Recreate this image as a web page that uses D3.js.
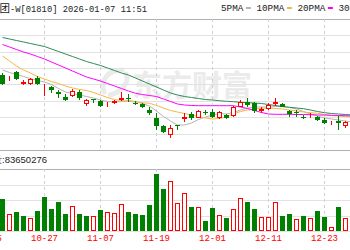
<!DOCTYPE html>
<html>
<head>
<meta charset="utf-8">
<script src="https://cdn.jsdelivr.net/npm/d3@7"></script>
<style>
body { margin: 0; background: #fff; }
svg { display: block; }
</style>
</head>
<body>
<div id="chart"></div>
<script>
var width = 350;
var height = 250;

// trading days that sit left of the visible window (only used for the axis)
var earlierDates = ['10-15', '10-16'];
var dates = ['10-17', '10-20', '10-21', '10-22', '10-23', '10-24', '10-27', '10-28', '10-30', '10-31',
  '11-03', '11-04', '11-05', '11-06', '11-07', '11-10', '11-11', '11-12', '11-13', '11-14',
  '11-17', '11-18', '11-19', '11-20', '11-21', '11-24', '11-25', '11-26', '11-27', '11-28',
  '12-01', '12-02', '12-03', '12-04', '12-05', '12-08', '12-09', '12-10', '12-11', '12-12',
  '12-15', '12-16', '12-17', '12-18', '12-19', '12-22', '12-23', '12-24', '12-29', '12-30',
  '12-31'];
var tickDates = ['10-15', '10-27', '11-07', '11-19', '12-01', '12-11', '12-23'];

var openPrices = [43.60, 43.20, 43.93, 42.67, 42.67, 43.33, 42.60, 42.37, 41.87, 41.43,
  41.50, 41.93, 40.70, 41.22, 41.03, 40.55, 40.85, 41.10, 41.33, 40.83,
  40.70, 40.10, 39.27, 38.50, 37.60, 38.60, 39.25, 39.70, 39.33, 39.87,
  39.93, 39.35, 39.60, 39.50, 40.43, 40.87, 40.77, 40.03, 40.23, 40.72,
  40.67, 40.03, 39.95, 39.43, 39.43, 39.43, 39.13, 38.90, 39.05, 38.45,
  39.20];
var closePrices = [42.67, 43.30, 43.17, 42.87, 43.17, 42.75, 42.70, 42.10, 41.73, 41.10,
  42.03, 41.27, 41.08, 41.13, 40.50, 40.65, 40.95, 41.33, 41.17, 40.73,
  40.37, 39.77, 38.50, 37.93, 38.27, 38.45, 39.45, 39.33, 40.00, 39.77,
  39.43, 39.90, 39.33, 40.37, 40.93, 40.60, 40.00, 40.17, 40.60, 40.87,
  40.43, 39.73, 39.80, 39.33, 39.53, 39.13, 38.83, 39.00, 38.85, 38.90,
  38.85];
var highPrices = [43.80, 43.50, 44.03, 43.10, 43.33, 43.50, 42.75, 42.50, 42.10, 41.70,
  42.20, 42.10, 41.17, 41.25, 41.10, 40.93, 41.15, 41.93, 41.67, 41.05,
  40.83, 40.43, 39.77, 38.60, 38.60, 38.65, 39.85, 39.93, 40.10, 40.10,
  40.17, 40.05, 39.67, 40.50, 41.10, 41.27, 40.93, 40.43, 40.77, 41.27,
  40.77, 40.10, 40.13, 39.60, 39.80, 39.53, 39.27, 39.00, 39.55, 39.00,
  39.40];
var lowPrices = [42.60, 43.00, 43.10, 42.57, 42.57, 42.57, 41.55, 41.77, 41.27, 41.05,
  41.43, 41.10, 40.53, 40.85, 40.37, 40.37, 40.70, 41.05, 40.93, 40.60,
  40.27, 39.60, 38.10, 37.77, 37.27, 38.10, 38.93, 39.10, 39.27, 39.60,
  39.27, 39.20, 39.20, 39.40, 40.37, 40.40, 39.85, 39.77, 40.10, 40.50,
  40.37, 39.43, 39.43, 39.20, 39.27, 39.00, 38.67, 38.60, 38.10, 38.35,
  38.70];
// volume, millions of shares
var volumes = [129, 67, 78, 60, 54, 82, 136, 89, 118, 67,
  100, 67, 60, 60, 86, 78, 74, 108, 78, 67,
  65, 105, 230, 169, 202, 113, 152, 96, 98, 40,
  92, 65, 51, 88, 132, 116, 88, 55, 58, 116,
  62, 69, 48, 62, 51, 81, 58, 17, 96, 51,
  27];

var ma5 = [44.10, 43.85, 43.65, 43.45, 43.25, 43.05, 42.90, 42.65, 42.25, 41.90,
  41.75, 41.60, 41.45, 41.30, 41.10, 40.95, 40.90, 40.95, 41.05, 40.95,
  40.75, 40.50, 40.00, 39.45, 39.00, 38.60, 38.60, 38.80, 39.15, 39.40,
  39.60, 39.75, 39.70, 39.85, 40.10, 40.30, 40.40, 40.40, 40.40, 40.45,
  40.45, 40.35, 40.20, 39.95, 39.70, 39.50, 39.30, 39.20, 39.10, 39.00,
  38.90];
var ma10 = [45.50, 45.00, 44.50, 44.10, 43.80, 43.45, 43.20, 42.95, 42.75, 42.50,
  42.30, 42.15, 42.05, 41.85, 41.60, 41.35, 41.15, 41.05, 40.97, 40.90,
  40.83, 40.77, 40.55, 40.30, 40.05, 39.90, 39.75, 39.60, 39.45, 39.30,
  39.20, 39.25, 39.40, 39.70, 39.95, 40.10, 40.20, 40.27, 40.30, 40.25,
  40.20, 40.10, 40.00, 39.90, 39.83, 39.77, 39.65, 39.55, 39.50, 39.45,
  39.40];
var ma20 = [46.65, 46.40, 46.15, 45.90, 45.70, 45.45, 45.20, 44.90, 44.60, 44.30,
  44.00, 43.70, 43.40, 43.20, 43.00, 42.75, 42.50, 42.25, 42.00, 41.77,
  41.65, 41.55, 41.45, 41.20, 40.95, 40.70, 40.60, 40.55, 40.53, 40.53,
  40.53, 40.53, 40.53, 40.53, 40.40, 40.25, 40.05, 39.85, 39.70, 39.67,
  39.67, 39.67, 39.65, 39.65, 39.63, 39.60, 39.60, 39.57, 39.55, 39.53,
  39.50];
var ma30 = [47.35, 47.20, 47.05, 46.90, 46.75, 46.60, 46.45, 46.20, 45.95, 45.70,
  45.45, 45.20, 44.95, 44.75, 44.55, 44.30, 44.05, 43.80, 43.60, 43.30,
  43.00, 42.70, 42.40, 42.10, 41.80, 41.60, 41.45, 41.35, 41.25, 41.15,
  41.10, 41.03, 40.97, 40.93, 40.87, 40.83, 40.80, 40.75, 40.65, 40.55,
  40.45, 40.37, 40.30, 40.23, 40.10, 39.95, 39.83, 39.75, 39.70, 39.65,
  39.60];

var maNames = ['5PMA', '10PMA', '20PMA', '30PMA'];
var maColors = ['#b4b4b4', '#f7b547', '#ff00ff', '#2e8b57'];
var maSeries = [ma5, ma10, ma20, ma30];

var upColor = '#ff0000';
var downColor = '#008000';

var priceTop = 19, priceBottom = 150;
var volTop = 169, volBottom = 231;

var svg = d3.select('#chart')
  .append('svg')
  .attr('width', width)
  .attr('height', height);

var x = d3.scaleBand()
  .domain(earlierDates.concat(dates))
  .range([-15, -15 + 7 * (earlierDates.length + dates.length)])
  .paddingInner(2 / 7)
  .paddingOuter(1 / 7);

var y = d3.scaleLinear().domain([36.1, 49.2]).range([priceBottom, priceTop]);
var yVol = d3.scaleLinear().domain([0, 250]).range([volBottom, volTop]);

function cx(date) { return x(date) + x.bandwidth() / 2; }
function crisp(v) { return Math.round(v) + 0.5; }

var candles = dates.map(function(d, i) {
  return {
    date: d,
    open: openPrices[i],
    close: closePrices[i],
    high: highPrices[i],
    low: lowPrices[i],
    volume: volumes[i],
    up: closePrices[i] >= openPrices[i],
    volUp: i > 0 ? closePrices[i] > closePrices[i - 1] : closePrices[i] >= openPrices[i]
  };
});

// watermark
var mark = svg.append('g').attr('fill', 'none').attr('stroke', '#ebebeb').attr('stroke-width', 5)
  .attr('stroke-linecap', 'round');
mark.append('path').attr('d', 'M104,92 C100,80 108,70 122,70');
mark.append('path').attr('d', 'M110,95 C122,92 130,82 126,74');
svg.append('text')
  .attr('x', 132)
  .attr('y', 96)
  .attr('font-family', '"Noto Sans CJK SC"')
  .attr('font-weight', 700)
  .attr('font-size', 30)
  .attr('fill', '#ebebeb')
  .text('东方财富');

// horizontal grid
var priceGrid = d3.range(9).map(function(k) { return 36.1 + k * (49.2 - 36.1) / 8; });
svg.append('g').selectAll('line')
  .data(priceGrid)
  .enter().append('line')
  .attr('x1', 0).attr('x2', width)
  .attr('y1', function(d) { return crisp(y(d)); })
  .attr('y2', function(d) { return crisp(y(d)); })
  .attr('stroke', function(d, i) { return (i === 0 || i === 8) ? '#b0b0b0' : '#e2e2e2'; });

var volGrid = d3.range(5).map(function(k) { return k * 250 / 4; });
svg.append('g').selectAll('line')
  .data(volGrid)
  .enter().append('line')
  .attr('x1', 0).attr('x2', width)
  .attr('y1', function(d) { return crisp(yVol(d)); })
  .attr('y2', function(d) { return crisp(yVol(d)); })
  .attr('stroke', function(d, i) { return i === 4 ? '#b0b0b0' : '#e2e2e2'; });

// vertical dashed grid
var vgrid = svg.append('g').selectAll('g')
  .data(tickDates)
  .enter().append('g');
vgrid.append('line')
  .attr('x1', function(d) { return cx(d); }).attr('x2', function(d) { return cx(d); })
  .attr('y1', priceTop).attr('y2', priceBottom)
  .attr('stroke', '#d0d0d0').attr('stroke-dasharray', '3,3');
vgrid.append('line')
  .attr('x1', function(d) { return cx(d); }).attr('x2', function(d) { return cx(d); })
  .attr('y1', volTop).attr('y2', volBottom)
  .attr('stroke', '#d0d0d0').attr('stroke-dasharray', '3,3');

// date labels
svg.append('g').selectAll('text')
  .data(tickDates)
  .enter().append('text')
  .attr('x', function(d) { return cx(d); })
  .attr('y', 241)
  .attr('text-anchor', 'middle')
  .attr('font-family', '"Liberation Mono", monospace')
  .attr('font-size', 9)
  .attr('fill', upColor)
  .text(function(d) { return d; });

// moving averages
var line = d3.line()
  .x(function(d, i) { return cx(dates[i]); })
  .y(function(d) { return y(d); });
svg.append('g').selectAll('path')
  .data(maSeries)
  .enter().append('path')
  .attr('d', line)
  .attr('fill', 'none')
  .attr('stroke', function(d, i) { return maColors[i]; })
  .attr('stroke-width', 1);

// candles
var candle = svg.append('g').selectAll('g')
  .data(candles)
  .enter().append('g');

candle.append('line')
  .attr('x1', function(d) { return cx(d.date); })
  .attr('x2', function(d) { return cx(d.date); })
  .attr('y1', function(d) { return Math.round(y(d.high)); })
  .attr('y2', function(d) { return Math.round(y(d.low)); })
  .attr('stroke', function(d) { return d.up ? upColor : downColor; });

candle.append('rect')
  .attr('x', function(d) { return d.up ? x(d.date) + 0.5 : x(d.date); })
  .attr('y', function(d) {
    var top = Math.round(y(Math.max(d.open, d.close)));
    return d.up ? top + 0.5 : top;
  })
  .attr('width', function(d) { return d.up ? x.bandwidth() - 1 : x.bandwidth(); })
  .attr('height', function(d) {
    var h = Math.round(y(Math.min(d.open, d.close))) - Math.round(y(Math.max(d.open, d.close)));
    return d.up ? Math.max(h - 1, 0) : Math.max(h, 1);
  })
  .attr('fill', function(d) { return d.up ? '#fff' : downColor; })
  .attr('stroke', function(d) { return d.up ? upColor : 'none'; });

// volume bars
svg.append('g').selectAll('rect')
  .data(candles)
  .enter().append('rect')
  .attr('x', function(d) { return d.volUp ? x(d.date) + 0.5 : x(d.date); })
  .attr('y', function(d) { return d.volUp ? Math.round(yVol(d.volume)) + 0.5 : Math.round(yVol(d.volume)); })
  .attr('width', function(d) { return d.volUp ? x.bandwidth() - 1 : x.bandwidth(); })
  .attr('height', function(d) {
    var h = Math.round(yVol(0)) - Math.round(yVol(d.volume));
    return d.volUp ? h - 1 : h;
  })
  .attr('fill', function(d) { return d.volUp ? '#fff' : downColor; })
  .attr('stroke', function(d) { return d.volUp ? upColor : 'none'; });

// title
svg.append('text')
  .attr('x', 10).attr('y', 12)
  .attr('text-anchor', 'end')
  .attr('font-family', '"Noto Sans CJK SC"')
  .attr('font-size', 10.5)
  .attr('fill', '#222')
  .text('小米集团');
svg.append('text')
  .attr('x', 10).attr('y', 12)
  .attr('font-family', '"Liberation Mono", monospace')
  .attr('font-size', 9.5)
  .attr('textLength', 137)
  .attr('lengthAdjust', 'spacingAndGlyphs')
  .attr('fill', '#222')
  .text('-W[01810] 2026-01-07 11:51');

// legend
var charW = 5.6;
var legendX = 221;
maNames.forEach(function(name, i) {
  var w = name.length * charW;
  svg.append('text')
    .attr('x', legendX).attr('y', 11)
    .attr('font-family', '"Liberation Mono", monospace')
    .attr('font-size', 9.3)
    .attr('textLength', w)
    .attr('lengthAdjust', 'spacingAndGlyphs')
    .attr('fill', '#222')
    .text(name);
  svg.append('rect')
    .attr('x', legendX + w + 2.5).attr('y', 7)
    .attr('width', 5).attr('height', 2)
    .attr('fill', maColors[i]);
  legendX += w + 13;
});

// volume caption
svg.append('text')
  .attr('x', 47).attr('y', 163)
  .attr('text-anchor', 'end')
  .attr('font-family', '"Liberation Sans", Arial, sans-serif')
  .attr('font-size', 9.5)
  .attr('fill', '#222')
  .text('成交量:83650276');
</script>
</body>
</html>
